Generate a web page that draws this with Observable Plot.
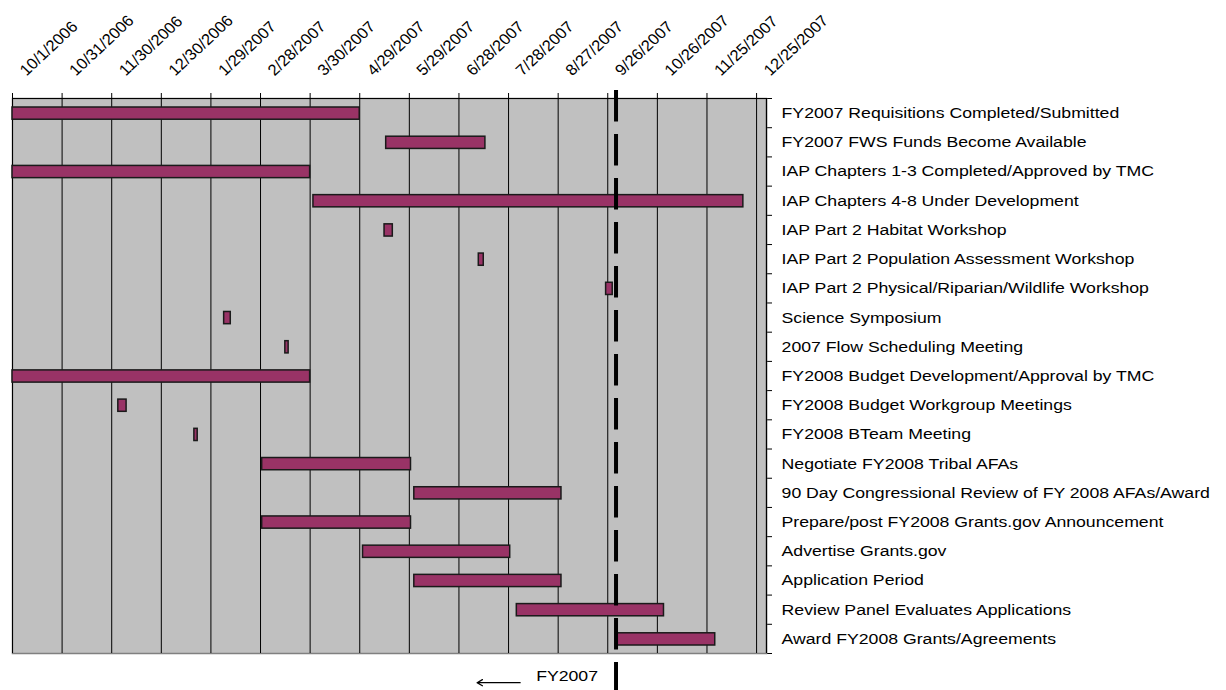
<!DOCTYPE html>
<html>
<head>
<meta charset="utf-8">
<script src="https://cdn.jsdelivr.net/npm/d3@7"></script>
<script src="https://cdn.jsdelivr.net/npm/@observablehq/plot@0.6"></script>
<style>
  html, body { margin: 0; padding: 0; background: #fff; }
  svg { display: block; }
</style>
</head>
<body>
<div id="chart"></div>
<script>
// ---- data ----
const tasks = [
  "FY2007 Requisitions Completed/Submitted",
  "FY2007 FWS Funds Become Available",
  "IAP Chapters 1-3 Completed/Approved by TMC",
  "IAP Chapters 4-8 Under Development",
  "IAP Part 2 Habitat Workshop",
  "IAP Part 2 Population Assessment Workshop",
  "IAP Part 2 Physical/Riparian/Wildlife Workshop",
  "Science Symposium",
  "2007 Flow Scheduling Meeting",
  "FY2008 Budget Development/Approval by TMC",
  "FY2008 Budget Workgroup Meetings",
  "FY2008 BTeam Meeting",
  "Negotiate FY2008 Tribal AFAs",
  "90 Day Congressional Review of FY 2008 AFAs/Award",
  "Prepare/post FY2008 Grants.gov Announcement",
  "Advertise Grants.gov",
  "Application Period",
  "Review Panel Evaluates Applications",
  "Award FY2008 Grants/Agreements"
];
const starts = [
  "10/1/2006", "5/15/2007", "10/1/2006", "4/1/2007", "5/14/2007",
  "7/10/2007", "9/25/2007", "2/6/2007", "3/15/2007", "10/1/2006",
  "12/4/2006", "1/19/2007", "3/1/2007", "6/1/2007", "3/1/2007",
  "5/1/2007", "6/1/2007", "8/2/2007", "10/1/2007"
];
const ends = [
  "4/29/2007", "7/14/2007", "3/30/2007", "12/17/2007", "5/19/2007",
  "7/13/2007", "9/29/2007", "2/10/2007", "3/17/2007", "3/30/2007",
  "12/9/2006", "1/21/2007", "5/30/2007", "8/29/2007", "5/30/2007",
  "7/29/2007", "8/29/2007", "10/30/2007", "11/30/2007"
];
const tickLabels = [
  "10/1/2006", "10/31/2006", "11/30/2006", "12/30/2006", "1/29/2007",
  "2/28/2007", "3/30/2007", "4/29/2007", "5/29/2007", "6/28/2007",
  "7/28/2007", "8/27/2007", "9/26/2007", "10/26/2007", "11/25/2007",
  "12/25/2007"
];
const xDomain = ["10/1/2006", "12/31/2007"];
const fyBoundary = "10/1/2007";
const fyLabel = "FY2007";
const fyArrow = ["8/4/2007", "7/9/2007"];

// ---- build ----
const parse = d3.utcParse("%m/%d/%Y");
const rows = tasks.map((t, i) => ({ task: t, row: i, start: parse(starts[i]), end: parse(ends[i]) }));
const ticks = tickLabels.map(parse);

const W = 1226, H = 690;
const mt = 98, mb = 37, ml = 12, mr = 460;
const frameH = H - mt - mb;
const FONT = "'Liberation Sans', Arial, Helvetica, sans-serif";
const stretch = 1.14;
const tickStretch = 1.07;

const chart = Plot.plot({
  width: W,
  height: H,
  marginTop: mt,
  marginBottom: mb,
  marginLeft: ml,
  marginRight: mr,
  style: { fontFamily: FONT, background: "#fff", overflow: "visible", color: "#000" },
  x: { type: "utc", domain: xDomain.map(parse), axis: null },
  y: {
    domain: [0, tasks.length],
    reverse: true,
    axis: "right",
    ticks: d3.range(tasks.length + 1),
    tickSize: 5,
    tickFormat: () => "",
    label: null
  },
  marks: [
    Plot.frame({ fill: "#c0c0c0", stroke: "#808080", strokeWidth: 1.5 }),
    Plot.ruleX(ticks, { stroke: "#000", strokeWidth: 1, insetTop: -5 }),
    Plot.ruleY([0], { stroke: "#000", strokeWidth: 1.2 }),
    Plot.ruleX([parse(xDomain[1])], { stroke: "#000", strokeWidth: 1.2 }),
    Plot.rect(rows, {
      x1: "start", x2: "end",
      y1: "row", y2: d => d.row + 1,
      insetTop: 9, insetBottom: 8,
      fill: "#993366", stroke: "#1a1a1a", strokeWidth: 1.5
    }),
    Plot.ruleX([fyBoundary], {
      x: d => parse(d), stroke: "#000", strokeWidth: 4,
      strokeDasharray: "31.5,12.5", insetTop: -8
    }),
    Plot.ruleX([fyBoundary], {
      x: d => parse(d), stroke: "#000", strokeWidth: 4,
      insetTop: frameH + 9, insetBottom: -mb
    }),
    Plot.text(rows, {
      y: d => d.row + 0.5, text: "task",
      frameAnchor: "right", textAnchor: "start", dx: 15,
      fontSize: 15.5, fill: "#000"
    }),
    Plot.text(tickLabels, {
      x: d => parse(d), text: d => d,
      frameAnchor: "top", rotate: -45, textAnchor: "start", lineAnchor: "bottom",
      dx: 14, dy: -22, fontSize: 15.5, fill: "#000"
    }),
    Plot.text([fyLabel], {
      x: () => parse(fyBoundary), text: d => d,
      frameAnchor: "bottom", textAnchor: "end", dx: -18, dy: 27,
      fontSize: 15.5, fill: "#000"
    }),
    Plot.arrow([fyArrow], {
      x1: d => parse(d[0]), x2: d => parse(d[1]),
      y1: tasks.length + 1, y2: tasks.length + 1,
      stroke: "#000", strokeWidth: 1.3, headLength: 7
    })
  ]
});

document.getElementById("chart").appendChild(chart);

// horizontal text stretch (the reference chart's text is horizontally widened)
const textGroups = chart.querySelectorAll('g[aria-label="text"]');
const taskG = textGroups[0], tickG = textGroups[1], fyG = textGroups[2];
if (taskG) {
  const x0 = W - mr + 15;
  const w = document.createElementNS("http://www.w3.org/2000/svg", "g");
  taskG.parentNode.insertBefore(w, taskG);
  w.appendChild(taskG);
  w.setAttribute("transform", `translate(${x0},0) scale(${stretch},1) translate(${-x0},0)`);
}
if (tickG) {
  tickG.querySelectorAll("text").forEach(t => {
    const tr = t.getAttribute("transform") || "";
    if (/rotate/.test(tr)) t.setAttribute("transform", tr.replace(/\)\s*rotate/, `) scale(${tickStretch},1) rotate`));
  });
}
if (fyG) {
  fyG.querySelectorAll("text").forEach(t => {
    const tr = t.getAttribute("transform") || "";
    t.setAttribute("transform", tr + ` scale(${stretch},1)`);
  });
}
</script>
</body>
</html>
